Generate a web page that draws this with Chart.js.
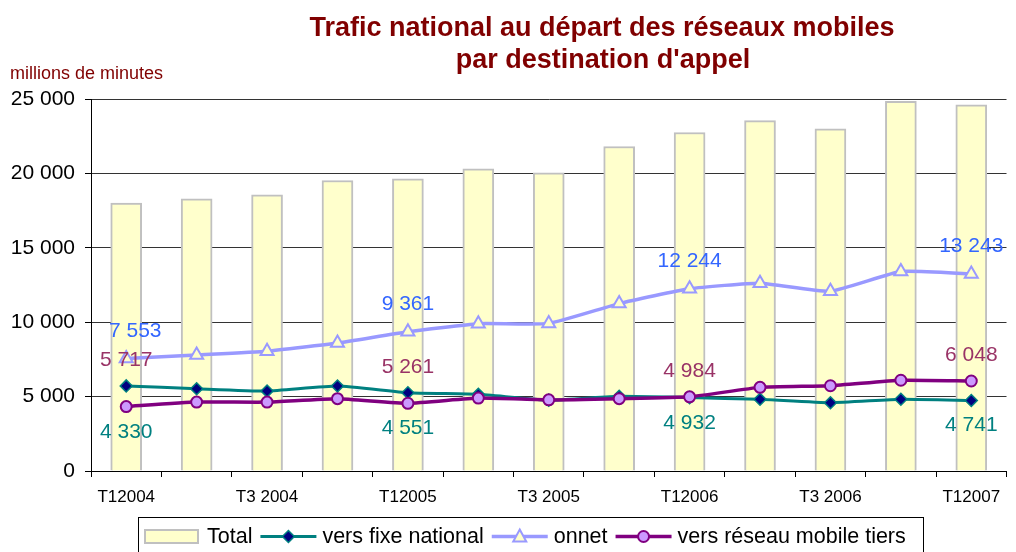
<!DOCTYPE html>
<html lang="fr">
<head>
    <meta charset="UTF-8">
    <title>Trafic national au départ des réseaux mobiles</title>
    <script src="https://cdn.jsdelivr.net/npm/chart.js@4.4.0/dist/chart.umd.min.js"></script>
    <style>
        html, body { margin: 0; padding: 0; background: #fff; overflow: hidden; }
        canvas { display: block; }
    </style>
</head>
<body>
    <canvas id="canvas_grafico" width="1016" height="552"></canvas>
</body>
</html>
<script>
    const categories = ['T1 2004', 'T2 2004', 'T3 2004', 'T4 2004', 'T1 2005', 'T2 2005', 'T3 2005',
        'T4 2005', 'T1 2006', 'T2 2006', 'T3 2006', 'T4 2006', 'T1 2007'];
    const tickLabels = ['T12004', '', 'T3 2004', '', 'T12005', '', 'T3 2005', '', 'T12006', '', 'T3 2006', '', 'T12007'];
    const total = [18000, 18290, 18560, 19520, 19640, 20310, 20040, 21810, 22750, 23550, 23000, 24850, 24610];
    const versFixe = [5717, 5530, 5370, 5710, 5261, 5150, 4760, 5020, 4932, 4820, 4590, 4820, 4741];
    const onnet = [7553, 7800, 8050, 8600, 9361, 9900, 9920, 11250, 12244, 12620, 12080, 13400, 13243];
    const versTiers = [4330, 4630, 4630, 4860, 4551, 4900, 4780, 4860, 4984, 5620, 5730, 6100, 6048];
    const labelIdx = [0, 4, 8, 12];
    const yTicks = [0, 5000, 10000, 15000, 20000, 25000];

    const titre = ['Trafic national au départ des réseaux mobiles', "par destination d'appel"];
    const unite = 'millions de minutes';
    const police = '"Liberation Sans", Arial, sans-serif';

    function fmt(v) {
        return String(v).replace(/\B(?=(\d{3})+(?!\d))/g, ' ');
    }

    function marqueur(ctx, type, x, y) {
        ctx.save();
        ctx.beginPath();
        if (type === 'losange') {
            ctx.moveTo(x, y - 6); ctx.lineTo(x + 6, y); ctx.lineTo(x, y + 6); ctx.lineTo(x - 6, y); ctx.closePath();
            ctx.fillStyle = '#000080'; ctx.strokeStyle = '#008080'; ctx.lineWidth = 1.5;
        } else if (type === 'triangle') {
            ctx.moveTo(x, y - 7); ctx.lineTo(x + 6.5, y + 5); ctx.lineTo(x - 6.5, y + 5); ctx.closePath();
            ctx.fillStyle = '#FFFFCC'; ctx.strokeStyle = '#9999FF'; ctx.lineWidth = 2;
        } else {
            ctx.arc(x, y, 5.5, 0, Math.PI * 2);
            ctx.fillStyle = '#CC99FF'; ctx.strokeStyle = '#800080'; ctx.lineWidth = 2;
        }
        ctx.fill(); ctx.stroke();
        ctx.restore();
    }

    const decor = {
        id: 'decor',
        afterDraw(chart) {
            const ctx = chart.ctx;
            ctx.save();

            // titre
            ctx.fillStyle = '#800000';
            ctx.textAlign = 'center';
            ctx.textBaseline = 'alphabetic';
            ctx.font = 'bold 27px ' + police;
            ctx.fillText(titre[0], 602, 36);
            ctx.fillText(titre[1], 603, 68);

            ctx.textAlign = 'left';
            ctx.font = '18px ' + police;
            ctx.fillText(unite, 10, 79);

            // étiquettes de données
            ctx.font = '21px ' + police;
            ctx.textAlign = 'center';
            const mOnnet = chart.getDatasetMeta(2).data;
            const mFixe = chart.getDatasetMeta(1).data;
            const mTiers = chart.getDatasetMeta(3).data;
            labelIdx.forEach((i) => {
                ctx.fillStyle = '#3366FF';
                ctx.fillText(fmt(onnet[i]), mOnnet[i].x + (i === 0 ? 9 : 0), mOnnet[i].y - 22);

                const haut = versFixe[i] >= versTiers[i] ? [versFixe[i], mFixe[i]] : [versTiers[i], mTiers[i]];
                const bas = versFixe[i] >= versTiers[i] ? [versTiers[i], mTiers[i]] : [versFixe[i], mFixe[i]];
                ctx.fillStyle = '#993366';
                ctx.fillText(fmt(haut[0]), haut[1].x, haut[1].y - 20);
                ctx.fillStyle = '#008080';
                ctx.fillText(fmt(bas[0]), bas[1].x, bas[1].y + 31);
            });

            // légende
            ctx.strokeStyle = '#000';
            ctx.lineWidth = 1;
            ctx.strokeRect(138.5, 517.5, 785, 60);

            ctx.textAlign = 'left';
            ctx.font = '21.5px ' + police;
            const cy = 536.5;
            let x = 145;
            ctx.fillStyle = '#FFFFCC';
            ctx.fillRect(x, 530, 53, 13);
            ctx.strokeStyle = '#C0C0C0';
            ctx.lineWidth = 2;
            ctx.strokeRect(x, 530, 53, 13);
            x += 62;
            ctx.fillStyle = '#000';
            ctx.fillText('Total', x, 543);
            x += ctx.measureText('Total').width + 8;

            const items = [
                { nom: 'vers fixe national', couleur: '#008080', type: 'losange', ep: 3 },
                { nom: 'onnet', couleur: '#9999FF', type: 'triangle', ep: 3.5 },
                { nom: 'vers réseau mobile tiers', couleur: '#800080', type: 'cercle', ep: 3.5 }
            ];
            items.forEach((it) => {
                ctx.strokeStyle = it.couleur;
                ctx.lineWidth = it.ep;
                ctx.beginPath();
                ctx.moveTo(x, cy);
                ctx.lineTo(x + 56, cy);
                ctx.stroke();
                marqueur(ctx, it.type, x + 28, cy);
                x += 62;
                ctx.fillStyle = '#000';
                ctx.fillText(it.nom, x, 543);
                x += ctx.measureText(it.nom).width + 8;
            });

            ctx.restore();
        }
    };

    const data = {
        labels: categories,
        datasets: [{
            type: 'bar',
            label: 'Total',
            data: total,
            backgroundColor: '#FFFFCC',
            borderColor: '#C0C0C0',
            borderWidth: 2,
            barThickness: 31,
            order: 4
        }, {
            type: 'line',
            label: 'vers fixe national',
            data: versFixe,
            borderColor: '#008080',
            borderWidth: 3,
            tension: 0.15,
            pointStyle: 'rectRot',
            pointRadius: 6,
            pointBackgroundColor: '#000080',
            pointBorderColor: '#008080',
            pointBorderWidth: 1.5,
            order: 3
        }, {
            type: 'line',
            label: 'onnet',
            data: onnet,
            borderColor: '#9999FF',
            borderWidth: 3.5,
            tension: 0.15,
            pointStyle: 'triangle',
            pointRadius: 7.5,
            pointBackgroundColor: '#FFFFCC',
            pointBorderColor: '#9999FF',
            pointBorderWidth: 2,
            order: 2
        }, {
            type: 'line',
            label: 'vers réseau mobile tiers',
            data: versTiers,
            borderColor: '#800080',
            borderWidth: 3.5,
            tension: 0.15,
            pointStyle: 'circle',
            pointRadius: 5.5,
            pointBackgroundColor: '#CC99FF',
            pointBorderColor: '#800080',
            pointBorderWidth: 2,
            order: 1
        }]
    };

    const config = {
        type: 'bar',
        data: data,
        options: {
            responsive: false,
            animation: false,
            layout: { padding: { top: 99, left: 0, right: 2, bottom: 0 } },
            plugins: {
                legend: { display: false },
                title: { display: false },
                tooltip: { enabled: false }
            },
            scales: {
                x: {
                    offset: true,
                    afterFit: (s) => { s.height = 81; },
                    grid: {
                        offset: true,
                        drawOnChartArea: false,
                        drawTicks: true,
                        tickLength: 6,
                        tickColor: '#000'
                    },
                    border: { display: true, color: '#000', width: 1 },
                    ticks: {
                        autoSkip: false,
                        maxRotation: 0,
                        padding: 10,
                        color: '#000',
                        font: { family: police, size: 17 },
                        callback: (v, i) => tickLabels[i]
                    }
                },
                y: {
                    min: 0,
                    max: 25000,
                    afterFit: (s) => { s.width = 91; },
                    afterBuildTicks: (s) => { s.ticks = yTicks.map((v) => ({ value: v })); },
                    grid: {
                        color: '#333',
                        lineWidth: 1,
                        drawTicks: true,
                        tickLength: 6,
                        tickColor: '#000'
                    },
                    border: { display: true, color: '#000', width: 1 },
                    ticks: {
                        padding: 10,
                        color: '#000',
                        font: { family: police, size: 21 },
                        callback: (v) => fmt(v)
                    }
                }
            }
        },
        plugins: [decor]
    };

    const grafico = new Chart(document.getElementById('canvas_grafico'), config);
</script>
